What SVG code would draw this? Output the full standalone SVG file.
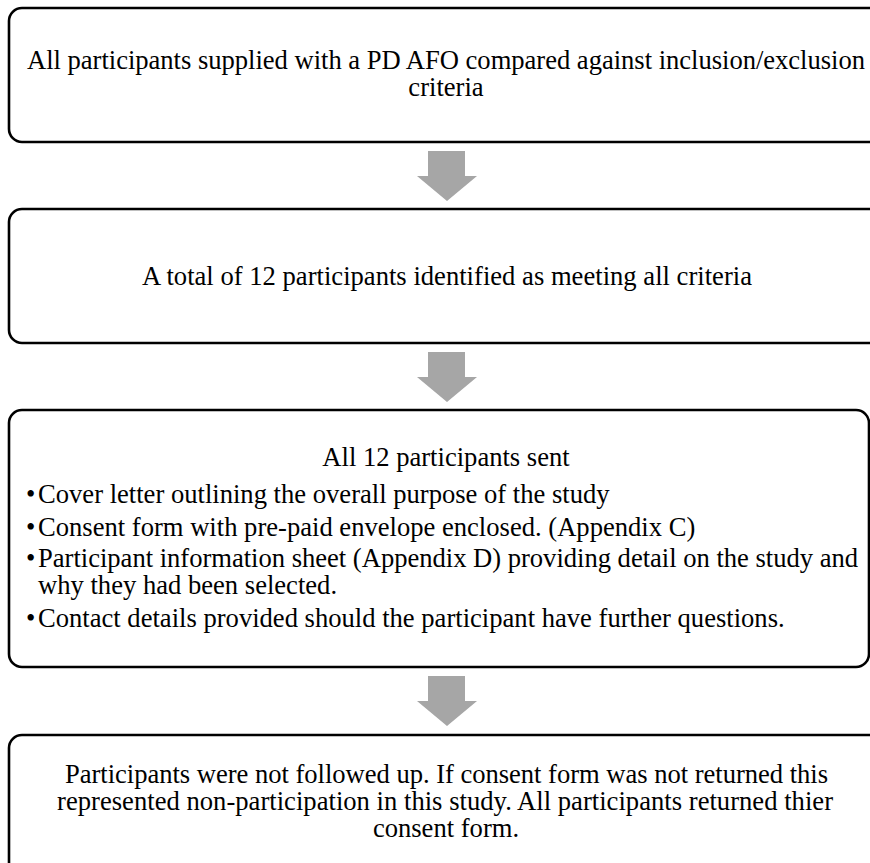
<svg xmlns="http://www.w3.org/2000/svg" width="870" height="863" viewBox="0 0 870 863">
<style>
.box{fill:#fff;stroke:#000;stroke-width:2.6}
.t{font-family:"Liberation Serif","Times New Roman",serif;font-size:26.6px;fill:#000}
.c{text-anchor:middle}
.arr{fill:#a6a6a6}
</style>
<rect width="870" height="863" fill="#fff"/>
<g id="connectors">
<polygon class="arr" points="428,151 465,151 465,176 477,176 447,201 417,176 428,176"/>
<polygon class="arr" points="428,352 465,352 465,377 477,377 447,402 417,377 428,377"/>
<polygon class="arr" points="428,676 465,676 465,701 477,701 447,726 417,701 428,701"/>
</g>
<g id="node1">
<rect class="box" x="9" y="8" width="876" height="134" rx="13"/>
<text class="t c" x="446" y="69" textLength="838" lengthAdjust="spacing">All participants supplied with a PD AFO compared against inclusion/exclusion</text>
<text class="t c" x="446" y="96">criteria</text>
</g>
<g id="node2">
<rect class="box" x="9" y="209" width="876" height="134" rx="13"/>
<text class="t c" x="447" y="285" textLength="610" lengthAdjust="spacing">A total of 12 participants identified as meeting all criteria</text>
</g>
<g id="node3">
<rect class="box" x="9" y="410" width="860" height="257" rx="13"/>
<text class="t c" x="446" y="466">All 12 participants sent</text>
<text class="t" x="26" y="503">•</text><text class="t" x="38" y="503">Cover letter outlining the overall purpose of the study</text>
<text class="t" x="26" y="536">•</text><text class="t" x="38" y="536">Consent form with pre-paid envelope enclosed. (Appendix C)</text>
<text class="t" x="26" y="567">•</text><text class="t" x="38" y="567" textLength="820" lengthAdjust="spacing">Participant information sheet (Appendix D) providing detail on the study and</text>
<text class="t" x="38" y="594">why they had been selected.</text>
<text class="t" x="26" y="627">•</text><text class="t" x="38" y="627">Contact details provided should the participant have further questions.</text>
</g>
<g id="node4">
<rect class="box" x="9" y="735" width="876" height="140" rx="13"/>
<text class="t c" x="446.5" y="783" textLength="763" lengthAdjust="spacing">Participants were not followed up. If consent form was not returned this</text>
<text class="t c" x="445" y="810" textLength="776" lengthAdjust="spacing">represented non-participation in this study. All participants returned thier</text>
<text class="t c" x="446" y="837">consent form.</text>
</g>
</svg>
